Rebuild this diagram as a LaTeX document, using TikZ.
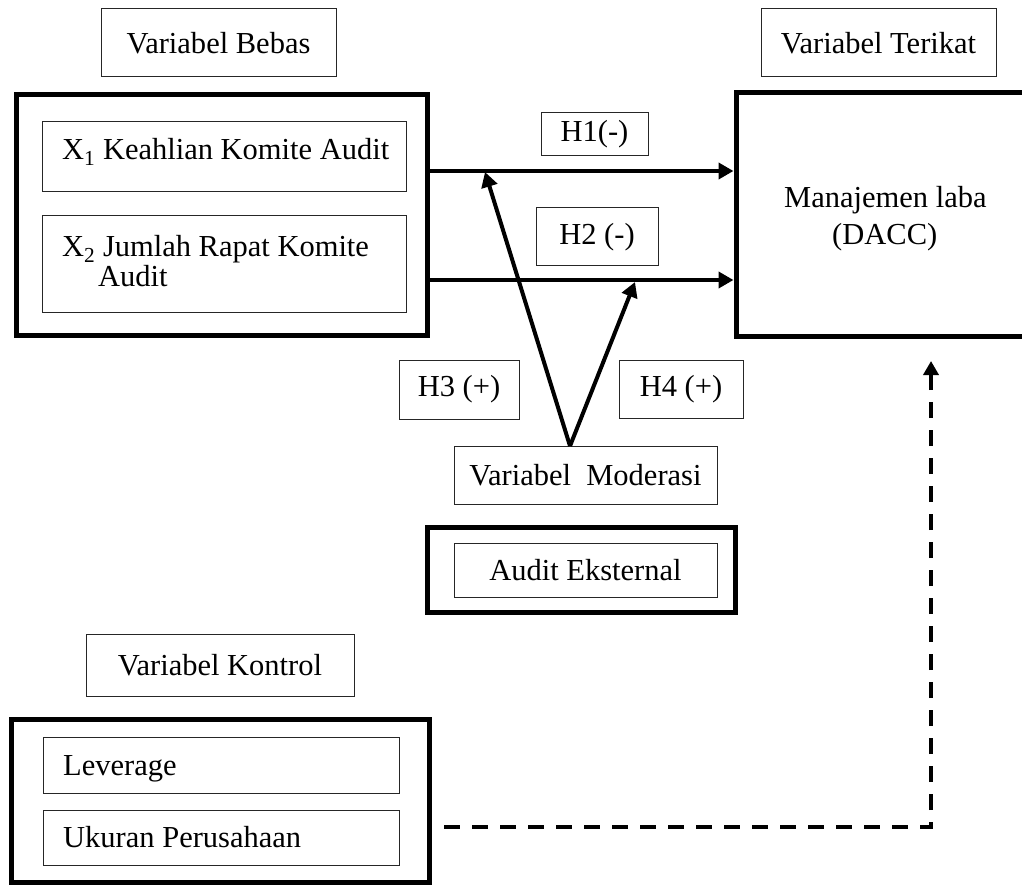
\documentclass[tikz,border=0pt]{standalone}
\usepackage{fontspec}
\setmainfont{Liberation Serif}
\usetikzlibrary{arrows.meta}
\tikzset{
  every node/.style={font=\fontsize{30.5}{36}\selectfont, inner sep=0pt},
  thinbox/.style={draw=black!85, line width=1pt},
  thickbox/.style={draw=black, line width=5pt, line join=miter},
  arr/.style={line width=4pt, -{Triangle[length=15pt,width=16pt]}},
  dasharr/.style={line width=4pt, dash pattern=on 16pt off 12pt, -{Triangle[length=14pt,width=15pt]}},
  txt/.style={anchor=base west}
}
\begin{document}
\begin{tikzpicture}[x=1pt,y=-1pt]
\useasboundingbox (0,0) rectangle (1022,885);
% header boxes
\node[thinbox, minimum width=235pt, minimum height=68pt] (bebas) at (218.5,43) {Variabel Bebas};
\node[thinbox, minimum width=235pt, minimum height=68pt] (terikat) at (878.5,43) {Variabel Terikat};
% independent variables
\node[thickbox, minimum width=411pt, minimum height=240pt] (bebasbox) at (221.5,215) {};
\node[thinbox, minimum width=364pt, minimum height=70pt] (x1box) at (224,157) {};
\node[thinbox, minimum width=364pt, minimum height=96pt] (x2box) at (224,264) {};
\node[txt] (x1t) at (62,160) {X\textsubscript{1} Keahlian Komite Audit};
\node[txt] (x2t) at (62,257) {X\textsubscript{2} Jumlah Rapat Komite};
\node[txt] (x2u) at (98,287) {Audit};
% dependent variable
\node[thickbox, minimum width=299pt, minimum height=243pt] (dacc) at (885.5,214.5) {};
\node[txt] (dacct1) at (784,208) {Manajemen laba};
\node[txt] (dacct2) at (832,244) {(DACC)};
% hypothesis labels
\node[thinbox, minimum width=107pt, minimum height=43pt] (h1) at (594.5,134.5) {H1(-)};
\node[thinbox, minimum width=122pt, minimum height=58pt] (h2) at (597,237) {H2 (-)};
\node[thinbox, minimum width=120pt, minimum height=59pt] (h3) at (459,389.5) {H3 (+)};
\node[thinbox, minimum width=124pt, minimum height=58pt] (h4) at (681,389) {H4 (+)};
% moderation
\node[thinbox, minimum width=263pt, minimum height=58pt] (mod) at (585.5,475) {Variabel\ \ Moderasi};
\node[thickbox, minimum width=308pt, minimum height=85pt] (auditbox) at (581,570) {};
\node[thinbox, minimum width=263pt, minimum height=54pt] (audit) at (585.5,570) {Audit Eksternal};
% control
\node[thinbox, minimum width=268pt, minimum height=62pt] (kontrol) at (220,665) {Variabel Kontrol};
\node[thickbox, minimum width=418pt, minimum height=163pt] (kontrolbox) at (220,800.5) {};
\node[thinbox, minimum width=356pt, minimum height=56pt] (lev) at (221,765) {};
\node[thinbox, minimum width=356pt, minimum height=55pt] (uk) at (221,837.5) {};
\node[txt] (levt) at (63,775) {Leverage};
\node[txt] (ukt) at (63,847) {Ukuran Perusahaan};
% connectors
\coordinate (h1s) at (427,171);
\coordinate (h2s) at (427,280);
\coordinate (apex) at (570,446);
\coordinate (m1) at (485,172);
\coordinate (m2) at (635,282);
\coordinate (ds) at (444,827);
\coordinate (corner) at (931,827);
\coordinate (de) at (931,361);
\draw[arr] (h1s) -- (h1s -| dacc.west);
\draw[arr] (h2s) -- (h2s -| dacc.west);
\draw[arr] (apex) -- (m1);
\draw[arr] (apex) -- (m2);
\draw[dasharr] (ds) -- (corner) -- (de);
\end{tikzpicture}
\end{document}
